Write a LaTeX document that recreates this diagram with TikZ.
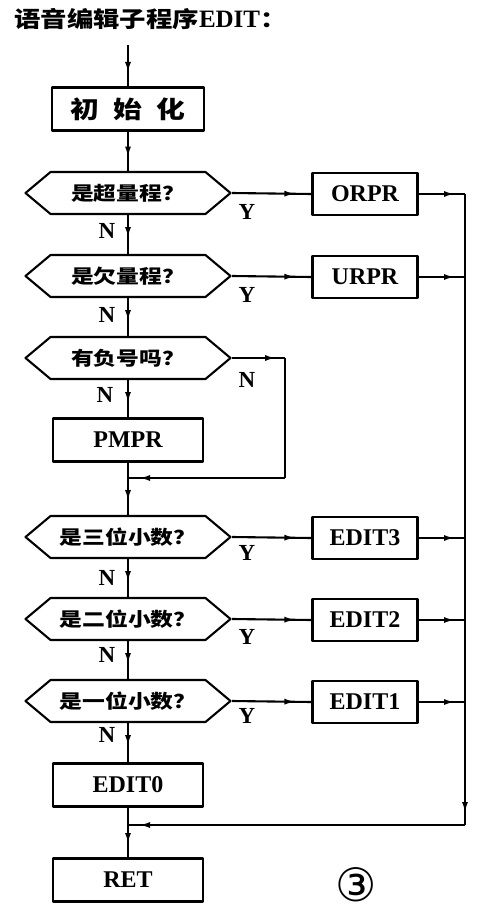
\documentclass[tikz,border=0pt]{standalone}
\usepackage{fontspec}
\setmainfont{Liberation Serif}
\newfontfamily\cjk[FakeStretch=1.2]{Noto Sans CJK SC}
\newfontfamily\symf{DejaVu Sans}
\usetikzlibrary{arrows.meta,shapes.symbols,decorations.markings}
\tikzset{
  base/.style={line width=2.1pt},
  box/.style={draw,base,minimum width=152pt,minimum height=43pt,inner sep=0pt,font=\fontsize{24}{24}\selectfont\bfseries},
  sub/.style={box,minimum width=105pt,minimum height=42pt},
  dec/.style={draw,base,signal,signal to=west and east,signal pointer angle=80,minimum width=205pt,minimum height=42pt,inner sep=0pt,font=\fontsize{19}{19}\selectfont\cjk\bfseries},
  lbl/.style={font=\fontsize{23}{23}\selectfont\bfseries},
  arr/.style={base,postaction={decorate},decoration={markings,mark=at position #1 with {\arrow{Latex[length=11pt,width=6pt]}}}},
}
\begin{document}
\begin{tikzpicture}[x=1pt,y=-1pt,line join=round]
\useasboundingbox (0,0) rectangle (484,915);
% title
\node[anchor=west,inner sep=0pt,font=\fontsize{22}{22}\selectfont\bfseries] (title) at (14,19) {{\cjk 语音编辑子程序}{\fontsize{25}{25}\selectfont EDIT}{\cjk ：}};
% main column
\coordinate (start) at (128,45);
\node[box] (init) at (128,109) {\cjk 初\hspace{14pt}始\hspace{14pt}化};
\node[dec] (d1) at (128,193) {是超量程？};
\node[dec] (d2) at (128,276) {是欠量程？};
\node[dec] (d3) at (128,358) {有负号吗？};
\node[box,minimum width=150pt] (pmpr) at (128,440) {PMPR};
\coordinate (j1) at (128,478);
\node[dec] (d4) at (128,537) {是三位小数？};
\node[dec] (d5) at (128,619) {是二位小数？};
\node[dec] (d6) at (128,701) {是一位小数？};
\node[box,minimum width=150pt] (e0) at (128,785) {EDIT0};
\coordinate (j2) at (128,825);
\node[box,minimum width=150pt] (ret) at (128,880) {RET};
% right column
\node[sub] (orpr) at (365,194) {ORPR};
\node[sub] (urpr) at (365,277) {URPR};
\node[sub] (e3) at (365,538) {EDIT3};
\node[sub] (e2) at (365,620) {EDIT2};
\node[sub] (e1) at (365,702) {EDIT1};
\coordinate (b1) at (465,194);
\coordinate (b2) at (465,277);
\coordinate (b3) at (465,538);
\coordinate (b4) at (465,620);
\coordinate (b5) at (465,702);
\coordinate (b6) at (465,825);
\coordinate (c1) at (285,358);
\coordinate (c2) at (285,478);
% vertical flow
\draw[arr=28pt] (start) -- (init.north);
\draw[arr=26pt] (init.south) -- (d1.north);
\draw[arr=23pt] (d1.south) -- (d2.north);
\draw[arr=23pt] (d2.south) -- (d3.north);
\draw[arr=23pt] (d3.south) -- (pmpr.north);
\draw[base] (pmpr.south) -- (j1);
\draw[arr=23pt] (j1) -- (d4.north);
\draw[arr=23pt] (d4.south) -- (d5.north);
\draw[arr=23pt] (d5.south) -- (d6.north);
\draw[arr=23pt] (d6.south) -- (e0.north);
\draw[base] (e0.south) -- (j2);
\draw[arr=19pt] (j2) -- (ret.north);
% yes branches
\foreach \d/\s in {d1/orpr,d2/urpr,d4/e3,d5/e2,d6/e1}
  \draw[arr=-16pt] (\d.east) -- (\s.west);
\foreach \s/\b in {orpr/b1,urpr/b2,e3/b3,e2/b4,e1/b5}
  \draw[arr=-10pt] (\s.east) -- (\b);
\draw[arr=-12pt] (b1) -- (b6);
\draw[arr=-11pt] (b6) -- (j2);
% sign branch
\draw[arr=44pt] (d3.east) -- (c1);
\draw[base] (c1) -- (c2);
\draw[arr=-11pt] (c2) -- (j1);
% labels
\foreach \p/\t in {{247,212}/Y,{247,295}/Y,{247,553}/Y,{247,637}/Y,{247,716}/Y,
  {107,231}/N,{107,315}/N,{105,395}/N,{107,578}/N,{107,655}/N,{107,735}/N,{247,380}/N}
  \node[lbl] at (\p) {\t};
\node[anchor=base,inner sep=0pt,font=\symf\fontsize{46}{46}\selectfont] (num) at (356,901) {③};
\end{tikzpicture}
\end{document}
